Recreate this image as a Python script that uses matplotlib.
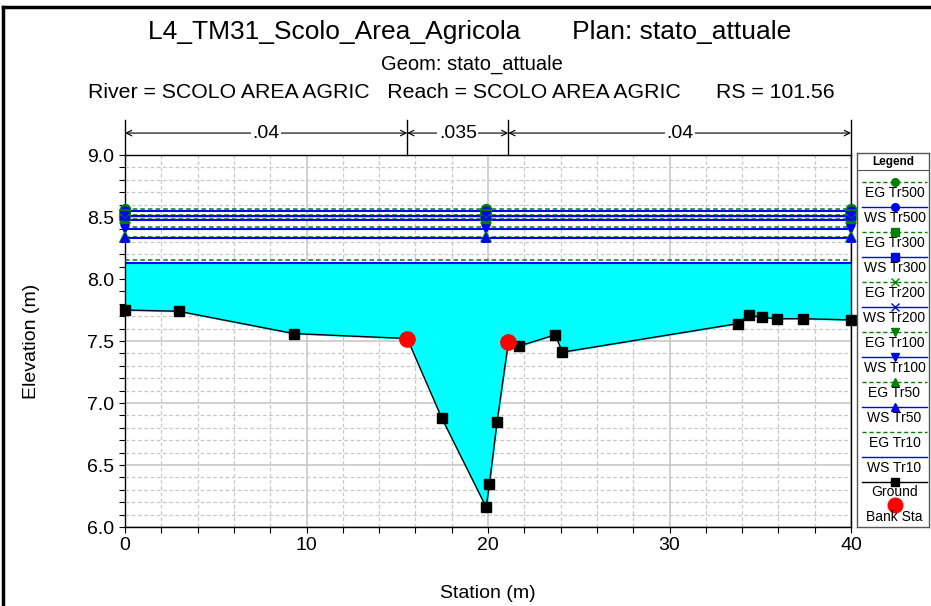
import numpy as np
import matplotlib
matplotlib.use("Agg")
import matplotlib.pyplot as plt
from matplotlib.lines import Line2D
from matplotlib.ticker import MultipleLocator, FormatStrFormatter

plt.rcParams['font.family'] = ['Liberation Sans', 'DejaVu Sans']

# ground profile
ground_x = [0.0, 2.95, 9.3, 15.55, 17.45, 19.9, 20.08, 20.5, 21.12, 21.73,
            23.7, 24.1, 33.75, 34.36, 35.08, 35.9, 37.35, 40.0]
ground_y = [7.75, 7.74, 7.56, 7.52, 6.88, 6.16, 6.35, 6.85, 7.49, 7.46,
            7.55, 7.41, 7.64, 7.71, 7.69, 7.68, 7.68, 7.67]
bank_x = [15.55, 21.12]
bank_y = [7.52, 7.49]

# water surface / energy grade levels per return period
profiles = ["Tr500", "Tr300", "Tr200", "Tr100", "Tr50", "Tr10"]
eg_levels = [8.565, 8.52, 8.484, 8.417, 8.335, 8.15]
ws_levels = [8.55, 8.51, 8.476, 8.40, 8.33, 8.13]
prof_markers = ["o", "s", "x", "v", "^", None]
mark_x = [0.0, 19.9, 40.0]

# manning n regions
n_edges = [0.0, 15.55, 21.12, 40.0]
n_values = [".04", ".035", ".04"]

W, H = 931, 606
fig = plt.figure(figsize=(W / 100, H / 100), dpi=100)

# outer frame (left and top visible)
fig.add_artist(Line2D([3 / W, 3 / W], [0, 1 - 7 / H], color="black", lw=2.5))
fig.add_artist(Line2D([3 / W, 1], [1 - 7 / H, 1 - 7 / H], color="black", lw=2.5))

ax = fig.add_axes([125 / W, 1 - 527 / H, 726 / W, 372 / H])
ax.set_xlim(0, 40)
ax.set_ylim(6.0, 9.0)

ax.xaxis.set_major_locator(MultipleLocator(10))
ax.xaxis.set_minor_locator(MultipleLocator(2))
ax.yaxis.set_major_locator(MultipleLocator(0.5))
ax.yaxis.set_minor_locator(MultipleLocator(0.1))
ax.yaxis.set_major_formatter(FormatStrFormatter("%.1f"))
ax.grid(which="major", color="#c8c8c8", lw=1.2, ls="-")
ax.grid(which="minor", color="#c8c8c8", lw=0.9, ls=(0, (3, 2)))
ax.set_axisbelow(True)
ax.tick_params(which="both", direction="out", length=4, width=0.8, labelsize=14)
for s in ax.spines.values():
    s.set_linewidth(1.0)

# water fill
ax.fill_between(ground_x, ground_y, ws_levels[-1], color="#00ffff", zorder=2)

for name, eg, ws, mk in zip(profiles, eg_levels, ws_levels, prof_markers):
    ax.plot([0, 40], [eg, eg], color="#008000", ls=(0, (3, 2)), lw=1.1, zorder=3)
    ax.plot([0, 40], [ws, ws], color="#0000ff", lw=1.5, zorder=3)
    if mk is not None:
        ax.plot(mark_x, [eg] * 3, ls="none", marker=mk, color="#008000", ms=7,
                mew=1.2, zorder=4, clip_on=False)
        ax.plot(mark_x, [ws] * 3, ls="none", marker=mk, color="#0000ff", ms=6,
                mew=1.2, zorder=4, clip_on=False)

ax.plot(ground_x, ground_y, color="black", lw=1.0, marker="s", ms=6.5, zorder=5,
        clip_on=False)
ax.plot(bank_x, bank_y, ls="none", marker="o", color="red", ms=11, zorder=6)

ax.set_xlabel("Station (m)", fontsize=14, labelpad=22)
ax.set_ylabel("Elevation (m)", fontsize=14, labelpad=34)

# manning n annotations
tr = ax.get_xaxis_transform()
for xe in n_edges:
    ax.plot([xe, xe], [1.0, 1.094], color="black", lw=1.0, transform=tr, clip_on=False)
for i, nv in enumerate(n_values):
    a, b = n_edges[i], n_edges[i + 1]
    ax.annotate("", xy=(a, 1.059), xytext=(b, 1.059), xycoords=tr, textcoords=tr,
                arrowprops=dict(arrowstyle="<->", lw=0.8, color="black",
                                shrinkA=0, shrinkB=0))
    ax.text((a + b) / 2, 1.059, nv, transform=tr, ha="center", va="center", fontsize=14,
            bbox=dict(facecolor="white", edgecolor="none", pad=1))

# titles
fig.text(470 / W, 1 - 32 / H, "L4_TM31_Scolo_Area_Agricola       Plan: stato_attuale",
         ha="center", va="center", fontsize=19)
fig.text(472 / W, 1 - 64 / H, "Geom: stato_attuale", ha="center", va="center", fontsize=14.5)
fig.text(461 / W, 1 - 93 / H,
         "River = SCOLO AREA AGRIC   Reach = SCOLO AREA AGRIC      RS = 101.56",
         ha="center", va="center", fontsize=15.3)

# legend box
lg = fig.add_axes([857 / W, 1 - 527 / H, 72 / W, 374 / H])
lg.set_xlim(0, 72)
lg.set_ylim(374, 0)
lg.set_xticks([])
lg.set_yticks([])
for s in lg.spines.values():
    s.set_color("#555555")
    s.set_linewidth(1.0)
lg.text(36, 9, "Legend", ha="center", va="center", fontsize=8.5, fontweight="bold")
lg.plot([0, 72], [17, 17], color="#555555", lw=0.8)

y0 = 29
step = 25
entries = []
for name, mk in zip(profiles, prof_markers):
    entries.append(("EG " + name, "#008000", (0, (3, 2)), mk))
    entries.append(("WS " + name, "#0000ff", "-", mk))
for i, (lab, col, ls, mk) in enumerate(entries):
    yy = y0 + i * step
    lg.plot([5, 70], [yy, yy], color=col, ls=ls, lw=1.0)
    if mk is not None:
        lg.plot([37.5], [yy], marker=mk, color=col, ms=5.5, mew=1.0)
    lg.text(37.5, yy + 11, lab, ha="center", va="center", fontsize=10)
yy = y0 + len(entries) * step
lg.plot([5, 70], [yy, yy], color="black", lw=1.0)
lg.plot([37.5], [yy], marker="s", color="black", ms=5.5)
lg.text(37.5, yy + 10, "Ground", ha="center", va="center", fontsize=10)
lg.plot([37.5], [yy + 23], marker="o", color="red", ms=10.5)
lg.text(37.5, yy + 35, "Bank Sta", ha="center", va="center", fontsize=10)

fig.savefig("out.png", dpi=100)
